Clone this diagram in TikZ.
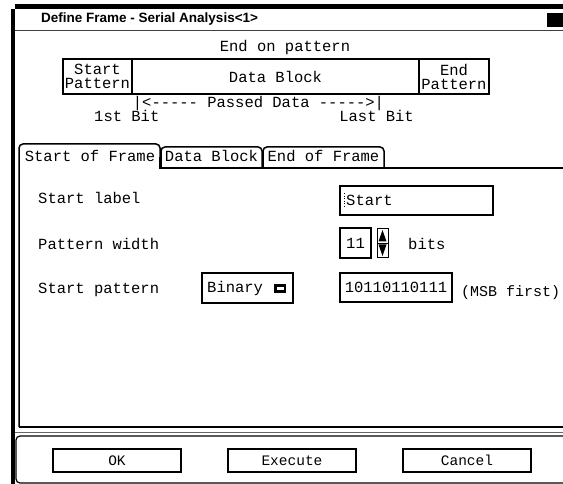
\documentclass[tikz,border=0pt]{standalone}
\usepackage{fontspec}
\setmainfont{Liberation Sans}
\newfontfamily\dlgfont{Liberation Mono}
\usetikzlibrary{positioning}

\begin{document}
\begin{tikzpicture}[x=1pt, y=-1pt,
    every node/.style={inner sep=0pt, font=\dlgfont\fontsize{15.5}{14}\selectfont},
    txt/.style={anchor=base west},
    cell/.style={draw, line width=2pt, minimum height=35pt, align=center},
    field/.style={draw, line width=2pt, minimum height=29pt},
    tabline/.style={line width=1.5pt, rounded corners=4pt},
    btn/.style={draw, line width=1.6pt, minimum width=128pt, minimum height=23pt,
                font=\dlgfont\fontsize{14.5}{14}\selectfont}]
    \useasboundingbox (0,0) rectangle (563,484);
    \fill[white] (0,0) rectangle (563,484);

    % window frame and title bar
    \fill (10.5,9) rectangle (15,484);
    \fill (15,4) rectangle (563,9);
    \draw[line width=1.5pt, black!75] (15,30.5) -- (563,30.5);
    \fill (547,13) rectangle (563,27);
    \node[anchor=base west, font=\fontsize{13.5}{16}\bfseries] (title) at (41,23)
        {Define Frame - Serial Analysis<1>};

    % frame layout
    \node[anchor=base] (endon) at (285,52) {End on pattern};
    \node[cell, minimum width=69pt] (startpat) at (97.5,76.5) {Start\\Pattern};
    \node[cell, minimum width=287pt] (datablk) at (275.5,76.5) {Data Block};
    \node[cell, minimum width=70pt] (endpat) at (454,76.5) {End\\Pattern};
    \node[anchor=base] (passed) at (258.5,108) {|<----- Passed Data ----->|};
    \node[anchor=base west] (firstbit) at (94,122) {1st Bit};
    \node[anchor=base east] (lastbit) at (414,122) {Last Bit};

    % tabs and panel
    \draw[tabline] (19,427) -- (19,144) -- (160,144) -- (160,158);
    \draw[line width=1.5pt] (160,157) -- (160,168) -- (563,168);
    \draw[tabline] (161,168) -- (161,147) -- (262,147) -- (262,168);
    \draw[tabline] (263,168) -- (263,147) -- (384,147) -- (384,168);
    \draw[line width=2pt] (19,427) -- (563,427);
    \node[anchor=base] (tabstart) at (90,162) {Start of Frame};
    \node[anchor=base] (tabdata) at (211.5,162) {Data Block};
    \node[anchor=base] (tabend) at (323.5,162) {End of Frame};

    % start label
    \node[txt] (lbllabel) at (38,204) {Start label};
    \node[field, minimum width=153pt] (startfld) at (416.5,200.5) {};
    \draw[dotted, line width=0.6pt] (344,193) -- (344,208);
    \node[txt] (startval) at (346,206) {Start};

    % pattern width
    \node[txt] (lblwidth) at (38,250) {Pattern width};
    \node[field, minimum width=31pt, minimum height=30pt] (widthfld) at (355.5,243) {11};
    \draw[line width=0.8pt] (377,228.5) rectangle (388,243) (377,243) rectangle (388,257.5);
    \fill (378.5,241.5) -- (382.5,230) -- (386.5,241.5) -- cycle;
    \fill (378.5,244.5) -- (386.5,244.5) -- (382.5,256) -- cycle;
    \node[txt] (bits) at (408,250) {bits};

    % start pattern
    \node[txt] (lblpattern) at (38,294) {Start pattern};
    \node[field, minimum width=91pt, minimum height=30pt] (binary) at (247.5,288) {};
    \node[txt] (binval) at (207,292) {Binary};
    \draw[line width=2.2pt] (275.5,285.5) rectangle (285,291.5);
    \node[field, minimum width=112pt] (patfld) at (396,287.5) {10110110111};
    \node[txt, font=\dlgfont\fontsize{15}{14}\selectfont] (msb) at (461,297) {(MSB first)};

    % buttons
    \draw[black!60, line width=1pt] (15,432) -- (563,432);
    \draw[line width=1.2pt, rounded corners=4pt] (563,436) -- (16,436) -- (16,483) -- (563,483);
    \node[btn] (ok) at (117,460.5) {OK};
    \node[btn] (execute) at (292,460.5) {Execute};
    \node[btn] (cancel) at (467,460.5) {Cancel};
\end{tikzpicture}
\end{document}
